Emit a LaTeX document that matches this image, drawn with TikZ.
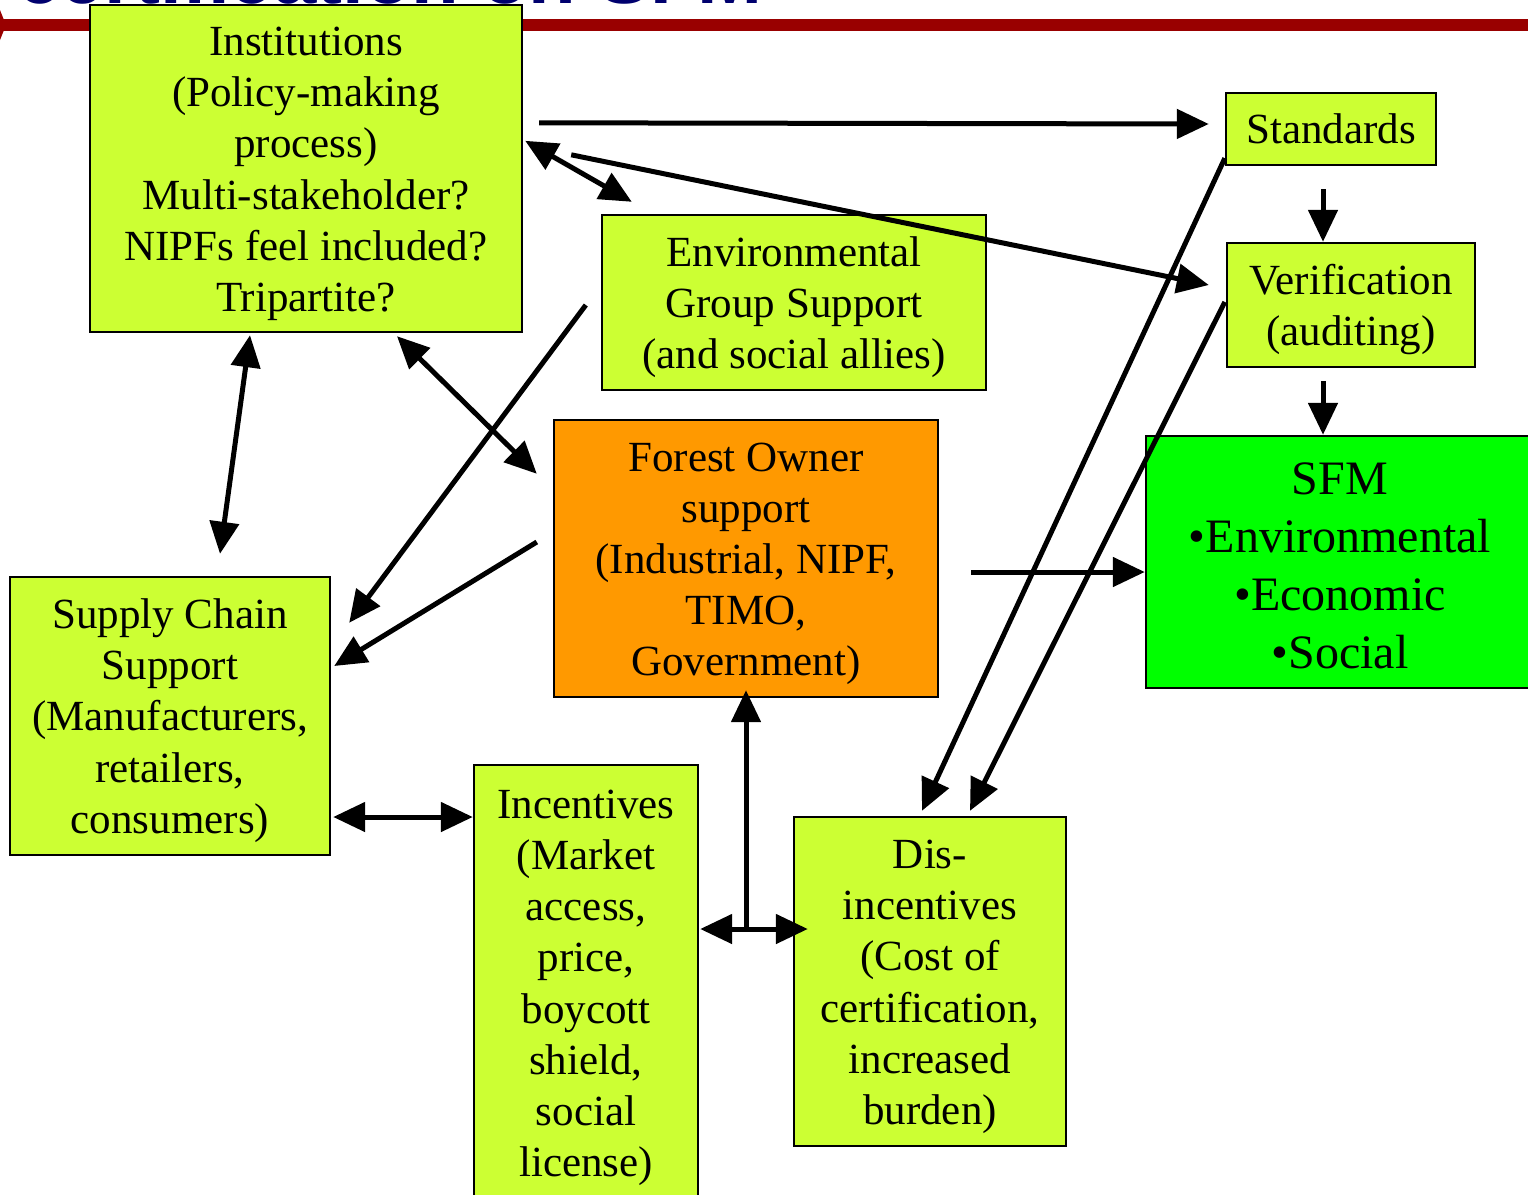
\documentclass[tikz,border=0pt]{standalone}
\usepackage{fontspec}
\setmainfont{Liberation Serif}
\newfontfamily\titlefont{Liberation Sans}
\usetikzlibrary{arrows.meta}

\definecolor{limebox}{RGB}{204,255,51}
\definecolor{ownerorange}{RGB}{255,153,0}
\definecolor{sfmgreen}{RGB}{0,255,0}
\definecolor{barred}{RGB}{153,0,0}
\definecolor{titlenavy}{RGB}{0,0,110}
% taller first line, pushes the text a little down in its box
\newcommand{\topgap}{\rule{0pt}{19.5pt}}

\begin{document}
\begin{tikzpicture}[x=0.5pt,y=-0.5pt,
    box/.style={draw=black, line width=1.2pt, fill=limebox, align=center,
        inner sep=0pt, font=\fontsize{21.5}{25.6}\selectfont},
    arr/.style={line width=2.5pt, -{Triangle[length=16pt,width=14.5pt]}},
    dbl/.style={line width=2.5pt, {Triangle[length=16pt,width=14.5pt]}-{Triangle[length=16pt,width=14.5pt]}}]
    \useasboundingbox (0,0) rectangle (1528,1195);

    % slide header bar
    \fill[barred] (0,19) rectangle (1528,31);
    \fill[barred] (0,10) -- (6,25) -- (0,40) -- cycle;

    % boxes
    \node[box, minimum width=216pt, minimum height=163.5pt] (inst) at (306,168.5)
        {\topgap Institutions\\(Policy-making\\process)\\Multi-stakeholder?\\NIPFs feel included?\\Tripartite?};
    \node[box, minimum width=105pt, minimum height=36pt] (std) at (1331,129) {Standards};
    \node[box, minimum width=192pt, minimum height=87.5pt] (env) at (794,302.5)
        {\topgap Environmental\\Group Support\\(and social allies)};
    \node[box, minimum width=124pt, minimum height=62pt] (ver) at (1351,305)
        {\topgap Verification\\(auditing)};
    \node[box, fill=ownerorange, minimum width=192pt, minimum height=138.5pt] (owner) at (746,558.5)
        {\topgap Forest Owner\\support\\(Industrial, NIPF,\\TIMO,\\Government)};
    \node[box, fill=sfmgreen, font=\fontsize{24}{29}\selectfont,
        minimum width=194pt, minimum height=126pt] (sfm) at (1340,562)
        {\topgap SFM\\\textbullet Environmental\\\textbullet Economic\\\textbullet Social};
    \node[box, minimum width=160pt, minimum height=139pt] (supply) at (170,716)
        {\topgap Supply Chain\\Support\\(Manufacturers,\\retailers,\\consumers)};
    \node[box, minimum width=112pt, minimum height=217.5pt] (inc) at (586,982.5)
        {\topgap Incentives\\(Market\\access,\\price,\\boycott\\shield,\\social\\license)};
    \node[box, minimum width=136pt, minimum height=164.5pt] (dis) at (930,981.5)
        {\topgap Dis-\\incentives\\(Cost of\\certification,\\increased\\burden)};

    % slide title, cut off at the top
    \begin{scope}
        \clip (0,0) rectangle (1528,1195);
        \node[anchor=base west, inner sep=0pt, text=titlenavy,
            font=\titlefont\bfseries\fontsize{39}{44}\selectfont] (title) at (17,3)
            {certification on SFM};
    \end{scope}

    % connectors
    \draw[arr] ([shift={(16,119)}]inst.north east) -- ([shift={(-16,-5)}]std.west);
    \draw[dbl] ([shift={(2,137)}]inst.north east) -- ([shift={(31,-12)}]env.north west);
    \draw[arr] ([shift={(48,151)}]inst.north east) -- ([shift={(-17,-20)}]ver.west);
    \draw[arr] ([shift={(-15,2.5)}]env.west) -- ([shift={(18,47)}]supply.north east);
    \draw[arr] ([shift={(-16,-16.5)}]owner.west) -- ([shift={(3,-50)}]supply.east);
    \draw[dbl] ([shift={(91,3)}]inst.south) -- ([shift={(-16,55)}]owner.north west);
    \draw[dbl] ([shift={(-56,2)}]inst.south) -- ([shift={(50,-22)}]supply.north);
    \draw[arr] ([shift={(32,13.5)}]owner.east) -- ([shift={(0,10)}]sfm.west);
    \draw[arr] ([shift={(-8,23)}]std.south) -- ([shift={(-28,0)}]ver.north);
    \draw[arr] ([shift={(-28,13)}]ver.south) -- ([shift={(-17,0)}]sfm.north);
    \draw[arr] ([shift={(0,-8)}]std.south west) -- ([shift={(-8,-5)}]dis.north);
    \draw[arr] ([shift={(-1,-3)}]ver.west) -- ([shift={(40,-5)}]dis.north);
    \draw[dbl] ([shift={(2,-165.5)}]inc.west -| supply.east) -- ([shift={(0,-165.5)}]inc.west);
    \coordinate (junc) at (746,929);
    \draw[dbl] ([shift={(1,-53.5)}]inc.east) -- ([shift={(15,-52.5)}]dis.west);
    \draw[arr] (junc) -- ([shift={(0,-8)}]owner.south);
\end{tikzpicture}
\end{document}
